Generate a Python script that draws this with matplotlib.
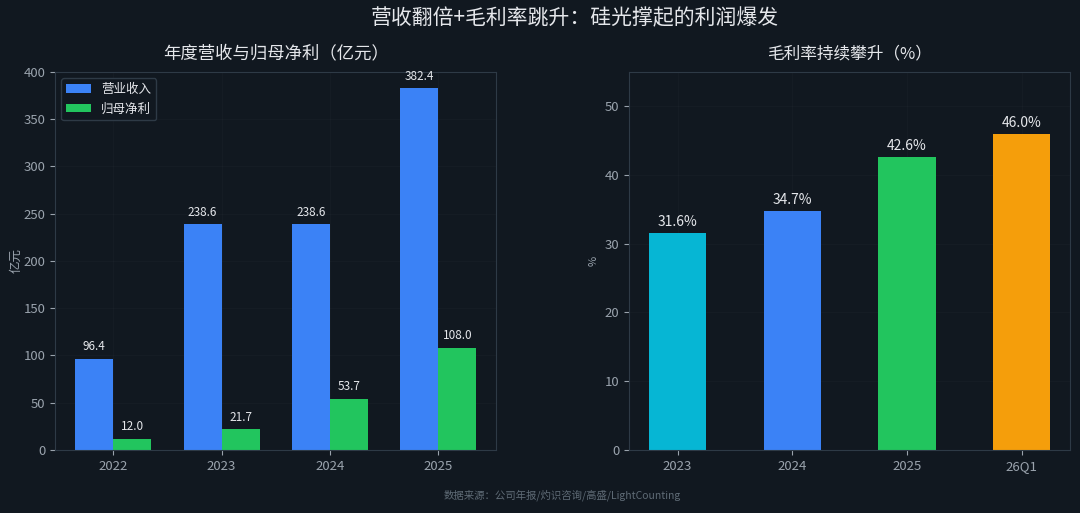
import matplotlib
matplotlib.use("Agg")
import numpy as np
import matplotlib.pyplot as plt

plt.rcParams['font.family'] = ['Noto Sans CJK SC', 'DejaVu Sans']

# 数据
years = ['2022', '2023', '2024', '2025']
revenue = [96.4, 238.6, 238.6, 382.4]
net_profit = [12.0, 21.7, 53.7, 108.0]

margin_periods = ['2023', '2024', '2025', '26Q1']
gross_margin = [31.6, 34.7, 42.6, 46.0]

bg = '#111820'
text_c = '#e5e7eb'
tick_c = '#9aa3ad'
spine_c = '#2e3a46'
margin_colors = ['#06b6d4', '#3b82f6', '#22c55e', '#f59e0b']

fig, (ax1, ax2) = plt.subplots(1, 2, figsize=(10.8, 5.13), dpi=100)
fig.patch.set_facecolor(bg)
fig.subplots_adjust(left=0.051, right=0.991, top=0.86, bottom=0.123, wspace=0.3)

for ax in (ax1, ax2):
    ax.set_facecolor(bg)
    for s in ax.spines.values():
        s.set_color(spine_c)
    ax.tick_params(colors=tick_c, labelsize=9.5)
    ax.grid(True, color='#ffffff', alpha=0.018, linewidth=0.8)
    ax.set_axisbelow(True)

# 左图
x = np.arange(len(years))
w = 0.35
b1 = ax1.bar(x - w / 2, revenue, w, color='#3b82f6', label='营业收入')
b2 = ax1.bar(x + w / 2, net_profit, w, color='#22c55e', label='归母净利')
for bar, v in zip(b1, revenue):
    ax1.text(bar.get_x() + bar.get_width() / 2, v + 6, f'{v:.1f}',
             ha='center', va='bottom', color=text_c, fontsize=8.5)
for bar, v in zip(b2, net_profit):
    ax1.text(bar.get_x() + bar.get_width() / 2, v + 6, f'{v:.1f}',
             ha='center', va='bottom', color=text_c, fontsize=8.5)
ax1.set_xticks(x)
ax1.set_xticklabels(years)
ax1.set_ylim(0, 400)
ax1.set_ylabel('亿元', color=tick_c, fontsize=9, labelpad=1)
ax1.set_title('年度营收与归母净利（亿元）', color=text_c, fontsize=12.5, pad=10)
leg = ax1.legend(loc='upper left', fontsize=9, facecolor=bg, edgecolor=spine_c,
                 labelcolor=text_c, framealpha=1)

# 右图
x2 = np.arange(len(margin_periods))
b3 = ax2.bar(x2, gross_margin, 0.5, color=margin_colors)
for bar, v in zip(b3, gross_margin):
    ax2.text(bar.get_x() + bar.get_width() / 2, v + 0.6, f'{v:.1f}%',
             ha='center', va='bottom', color=text_c, fontsize=10)
ax2.set_xticks(x2)
ax2.set_xticklabels(margin_periods)
ax2.set_ylim(0, 55)
ax2.set_ylabel('%', color=tick_c, fontsize=8)
ax2.set_title('毛利率持续攀升（%）', color=text_c, fontsize=12, pad=10)

fig.suptitle('营收翻倍+毛利率跳升：硅光撑起的利润爆发', color=text_c, fontsize=15,
             x=0.532, y=0.985)
fig.text(0.521, 0.028, '数据来源：公司年报/灼识咨询/高盛/LightCounting', ha='center',
         color='#5f6b76', fontsize=7.5)

fig.savefig('out.png', dpi=100, facecolor=bg)
